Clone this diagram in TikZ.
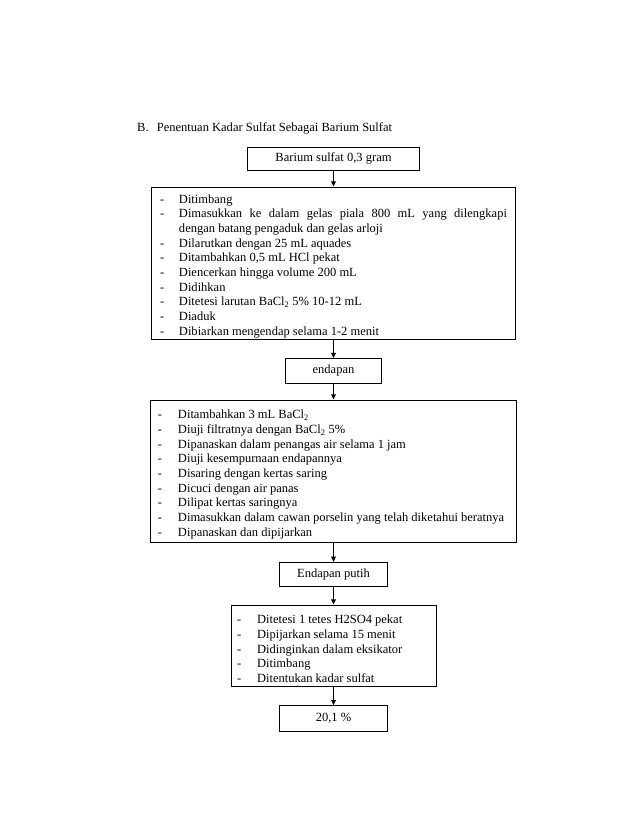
\documentclass[tikz,border=0pt]{standalone}
\usepackage{fontspec}
\setmainfont{Liberation Serif}
\usetikzlibrary{arrows.meta}
\newcommand\itmA[1]{\par\noindent\spaceskip=0pt\xspaceskip=0pt\hyphenpenalty=10000\hangindent=18.2pt\hangafter=1\makebox[18.2pt][l]{-}#1\par}
\newcommand\itmB[1]{\par\noindent\spaceskip=0pt\xspaceskip=0pt\hyphenpenalty=10000\hangindent=19.2pt\hangafter=1\makebox[19.2pt][l]{-}#1\par}
\begin{document}
\begin{tikzpicture}[x=0.9592pt,y=-0.9592pt,
  box/.style={draw=black,line width=0.9pt,rectangle,inner sep=0pt,align=center,
    font=\fontsize{12pt}{14.07pt}\selectfont},
  arr/.style={draw=black,line width=0.9pt,-{Triangle[length=5pt,width=4.6pt]}}]
\useasboundingbox (0,0) rectangle (638,826);
\fill[white] (0,0) rectangle (638,826);

\node[anchor=base west,inner sep=0pt,font=\fontsize{12pt}{14.07pt}\selectfont] (title) at (137,131)
  {\makebox[18.9pt][l]{B.}Penentuan Kadar Sulfat Sebagai Barium Sulfat};

\node[box,minimum width=165pt,minimum height=21.6pt] (b1) at (333.5,158.75) {Barium sulfat 0,3 gram};

\node[box,minimum width=349.8pt,minimum height=146.3pt,text width=332.8pt,inner xsep=8.5pt,align=justify] (b2) at (333.5,263.25)
{\itmA{Ditimbang}
\itmA{Dimasukkan ke dalam gelas piala 800 mL yang dilengkapi\linebreak dengan batang pengaduk dan gelas arloji}
\itmA{Dilarutkan dengan 25 mL aquades}
\itmA{Ditambahkan 0,5 mL HCl pekat}
\itmA{Diencerkan hingga volume 200 mL}
\itmA{Didihkan}
\itmA{Ditetesi larutan BaCl\textsubscript{2} 5\% 10-12 mL}
\itmA{Diaduk}
\itmA{Dibiarkan mengendap selama 1-2 menit}};

\node[box,minimum width=92.1pt,minimum height=23.8pt] (b3) at (333.5,370.9) {endapan};

\node[box,minimum width=351.7pt,minimum height=136.9pt,text width=336.7pt,inner xsep=7.5pt,align=left] (b4) at (333.5,471.35)
{\itmB{Ditambahkan 3 mL BaCl\textsubscript{2}}
\itmB{Diuji filtratnya dengan BaCl\textsubscript{2} 5\%}
\itmB{Dipanaskan dalam penangas air selama 1 jam}
\itmB{Diuji kesempurnaan endapannya}
\itmB{Disaring dengan kertas saring}
\itmB{Dicuci dengan air panas}
\itmB{Dilipat kertas saringnya}
\itmB{Dimasukkan dalam cawan porselin yang telah diketahui beratnya}
\itmB{Dipanaskan dan dipijarkan}};

\node[box,minimum width=103.6pt,minimum height=23.4pt] (b5) at (333.5,574.5) {Endapan putih};

\node[box,minimum width=196.6pt,minimum height=78.4pt,text width=185.1pt,inner xsep=5.75pt,align=left] (b6) at (333.5,645.85)
{\itmB{Ditetesi 1 tetes H2SO4 pekat}
\itmB{Dipijarkan selama 15 menit}
\itmB{Didinginkan dalam eksikator}
\itmB{Ditimbang}
\itmB{Ditentukan kadar sulfat}};

\node[box,minimum width=103.3pt,minimum height=24.3pt] (b7) at (333.5,718.35) {20,1 \%};

\draw[arr] (b1) -- (b2);
\draw[arr] (b2) -- (b3);
\draw[arr] (b3) -- (b4);
\draw[arr] (b4) -- (b5);
\draw[arr] (b5) -- (b6);
\draw[arr] (b6) -- (b7);
\end{tikzpicture}
\end{document}
